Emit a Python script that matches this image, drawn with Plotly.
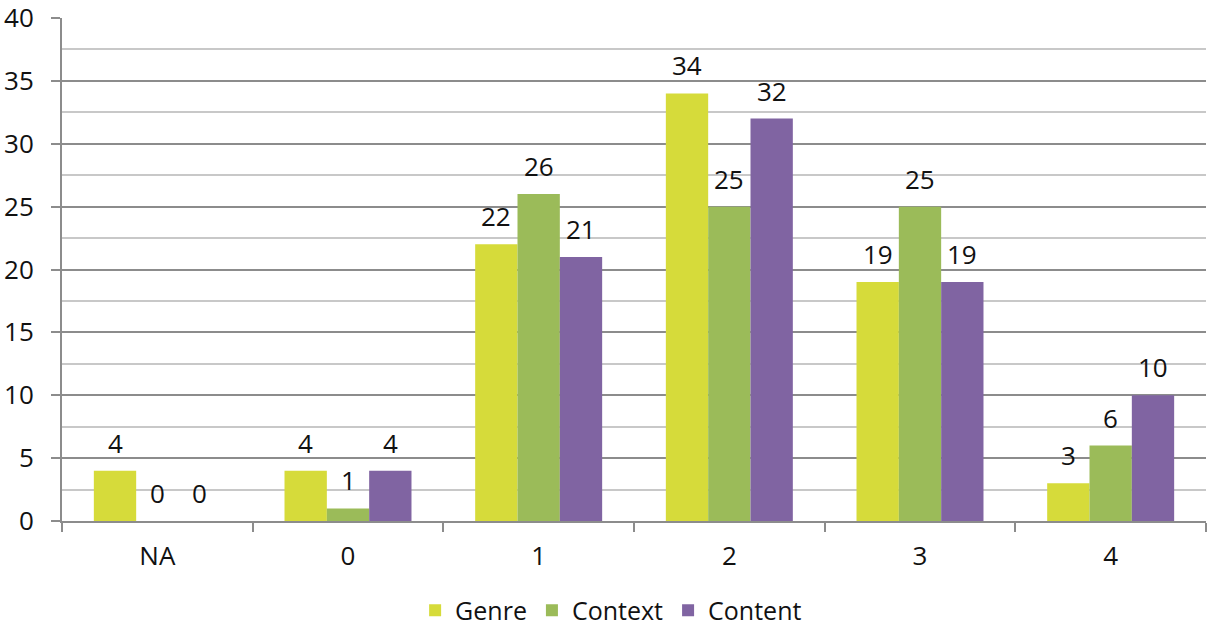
import plotly.graph_objects as go

categories = ["NA", "0", "1", "2", "3", "4"]
genre = [4, 4, 22, 34, 19, 3]
context = [0, 1, 26, 25, 25, 6]
content = [0, 4, 21, 32, 19, 10]

series = [("Genre", genre, "#d6db3a"), ("Context", context, "#9bbb59"), ("Content", content, "#8064a2")]

FONT = "Open Sans, Liberation Sans, sans-serif"
FS = 26
W, H = 1207, 633
ML, MR, MT, MB = 62, 1, 18, 112
BARGAP = 0.334
plot_w = W - ML - MR
bar_px = plot_w / len(categories) * (1 - BARGAP) / len(series)

fig = go.Figure()
annotations = []
for i, (name, vals, col) in enumerate(series):
    fig.add_trace(go.Bar(
        name=name, x=categories, y=vals, marker=dict(color=col, line=dict(width=0)),
    ))
    for j, v in enumerate(vals):
        annotations.append(dict(
            x=j, y=v, xref="x", yref="y", text=str(v), showarrow=False,
            xshift=(i - 1) * bar_px, yshift=28, yanchor="middle", xanchor="center",
            font=dict(size=FS, color="#111111", family=FONT),
        ))

fig.update_layout(
    width=W, height=H,
    margin=dict(l=ML, r=MR, t=MT, b=MB, autoexpand=False),
    barmode="group", bargap=BARGAP, bargroupgap=0,
    plot_bgcolor="white", paper_bgcolor="white",
    font=dict(family=FONT, size=FS, color="#111111"),
    showlegend=True,
    legend=dict(orientation="h", x=0.48, xanchor="center", y=-0.178, yanchor="middle",
                font=dict(size=25), itemwidth=30, tracegroupgap=0),
    annotations=annotations,
)
fig.update_xaxes(
    type="category",
    showline=True, linecolor="#8c8c8c", linewidth=2,
    ticks="outside", tickson="boundaries", ticklen=9, tickcolor="#8c8c8c", tickwidth=2,
    ticklabelstandoff=11, showgrid=False, fixedrange=True,
)
fig.update_yaxes(
    range=[0, 40], dtick=5, showline=True, linecolor="#8c8c8c", linewidth=2,
    ticks="outside", ticklen=9, tickcolor="#8c8c8c", tickwidth=2,
    showgrid=True, gridcolor="#8c8c8c", gridwidth=1.5,
    minor=dict(dtick=2.5, showgrid=True, gridcolor="#c8c8c8", gridwidth=1.5, ticks=""),
    ticklabelstandoff=12, zeroline=False, ticklabeloverflow="allow",
)

fig.write_html("out.html")
